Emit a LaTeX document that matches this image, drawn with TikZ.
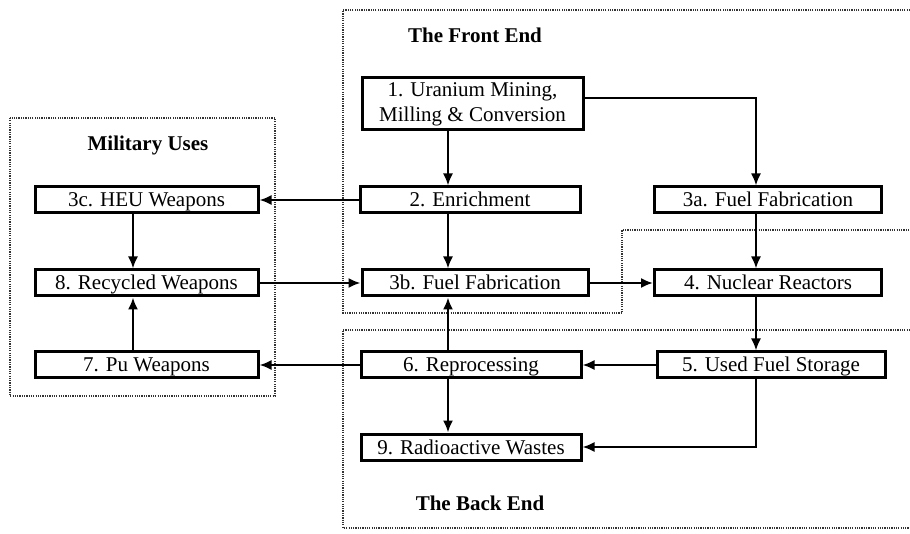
\documentclass[tikz,border=0pt]{standalone}
\usepackage{fontspec}
\setmainfont{Liberation Serif}
\usetikzlibrary{arrows.meta}
\begin{document}
\begin{tikzpicture}[x=1pt,y=-1pt,
  box/.style={draw,line width=3pt,rectangle,inner sep=0pt,font=\fontsize{21}{25}\selectfont},
  one/.style={box,text height=16pt,text depth=2pt,minimum height=26pt},
  lbox/.style={one,minimum width=223pt},
  cbox/.style={one,minimum width=220pt},
  rbox/.style={one,minimum width=227pt},
  conn/.style={line width=2pt,-{Latex[length=12pt,width=10pt]}},
  zone/.style={line width=1.5pt,black!80,dash pattern=on 1.2pt off 1.1pt},
  title/.style={font=\fontsize{21}{24}\selectfont\bfseries}]
\useasboundingbox (0,0) rectangle (910,534);
% zones
\draw[zone] (910,10) -- (343,10) -- (343,313) -- (622,313) -- (622,230) -- (910,230);
\draw[zone] (910,330) -- (343,330) -- (343,528) -- (910,528);
\draw[zone] (10,118) rectangle (275,396);
\node[title] (tfe) at (475,35) {The Front End};
\node[title] (tbe) at (480,503) {The Back End};
\node[title] (tmu) at (148,145) {Military Uses};
% nodes
\node[box,align=center,minimum width=221pt,minimum height=52pt] (b1) at (472.5,104) {1. Uranium Mining,\\Milling \& Conversion};
\node[cbox] (b2) at (470,200) {2. Enrichment};
\node[rbox] (b3a) at (768,200) {3a. Fuel Fabrication};
\node[cbox,minimum width=226pt] (b3b) at (475,283) {3b. Fuel Fabrication};
\node[rbox] (b4) at (768,283) {4. Nuclear Reactors};
\node[rbox,minimum width=228pt] (b5) at (771,365) {5. Used Fuel Storage};
\node[cbox] (b6) at (471,365) {6. Reprocessing};
\node[cbox] (b9) at (471,447) {9. Radioactive Wastes};
\node[lbox] (b3c) at (146.5,200) {3c. HEU Weapons};
\node[lbox] (b8) at (146.5,283) {8. Recycled Weapons};
\node[lbox] (b7) at (146.5,365) {7. Pu Weapons};
% column lines
\coordinate (cx) at (448,0);
\coordinate (rx) at (756,0);
\coordinate (lx) at (133,0);
% connectors
\draw[conn] (b1.south -| cx) -- (b2.north -| cx);
\draw[conn] ([yshift=6pt]b1.east) -| (b3a.north -| rx);
\draw[conn] (b2) -- (b3c);
\draw[conn] (b2.south -| cx) -- (b3b.north -| cx);
\draw[conn] (b3a.south -| rx) -- (b4.north -| rx);
\draw[conn] (b8) -- (b3b);
\draw[conn] (b3b) -- (b4);
\draw[conn] (b4.south -| rx) -- (b5.north -| rx);
\draw[conn] (b5) -- (b6);
\draw[conn] (b6) -- (b7);
\draw[conn] (b6.north -| cx) -- (b3b.south -| cx);
\draw[conn] (b6.south -| cx) -- (b9.north -| cx);
\draw[conn] (b5.south -| rx) |- (b9.east);
\draw[conn] (b3c.south -| lx) -- (b8.north -| lx);
\draw[conn] (b7.north -| lx) -- (b8.south -| lx);
\end{tikzpicture}
\end{document}
